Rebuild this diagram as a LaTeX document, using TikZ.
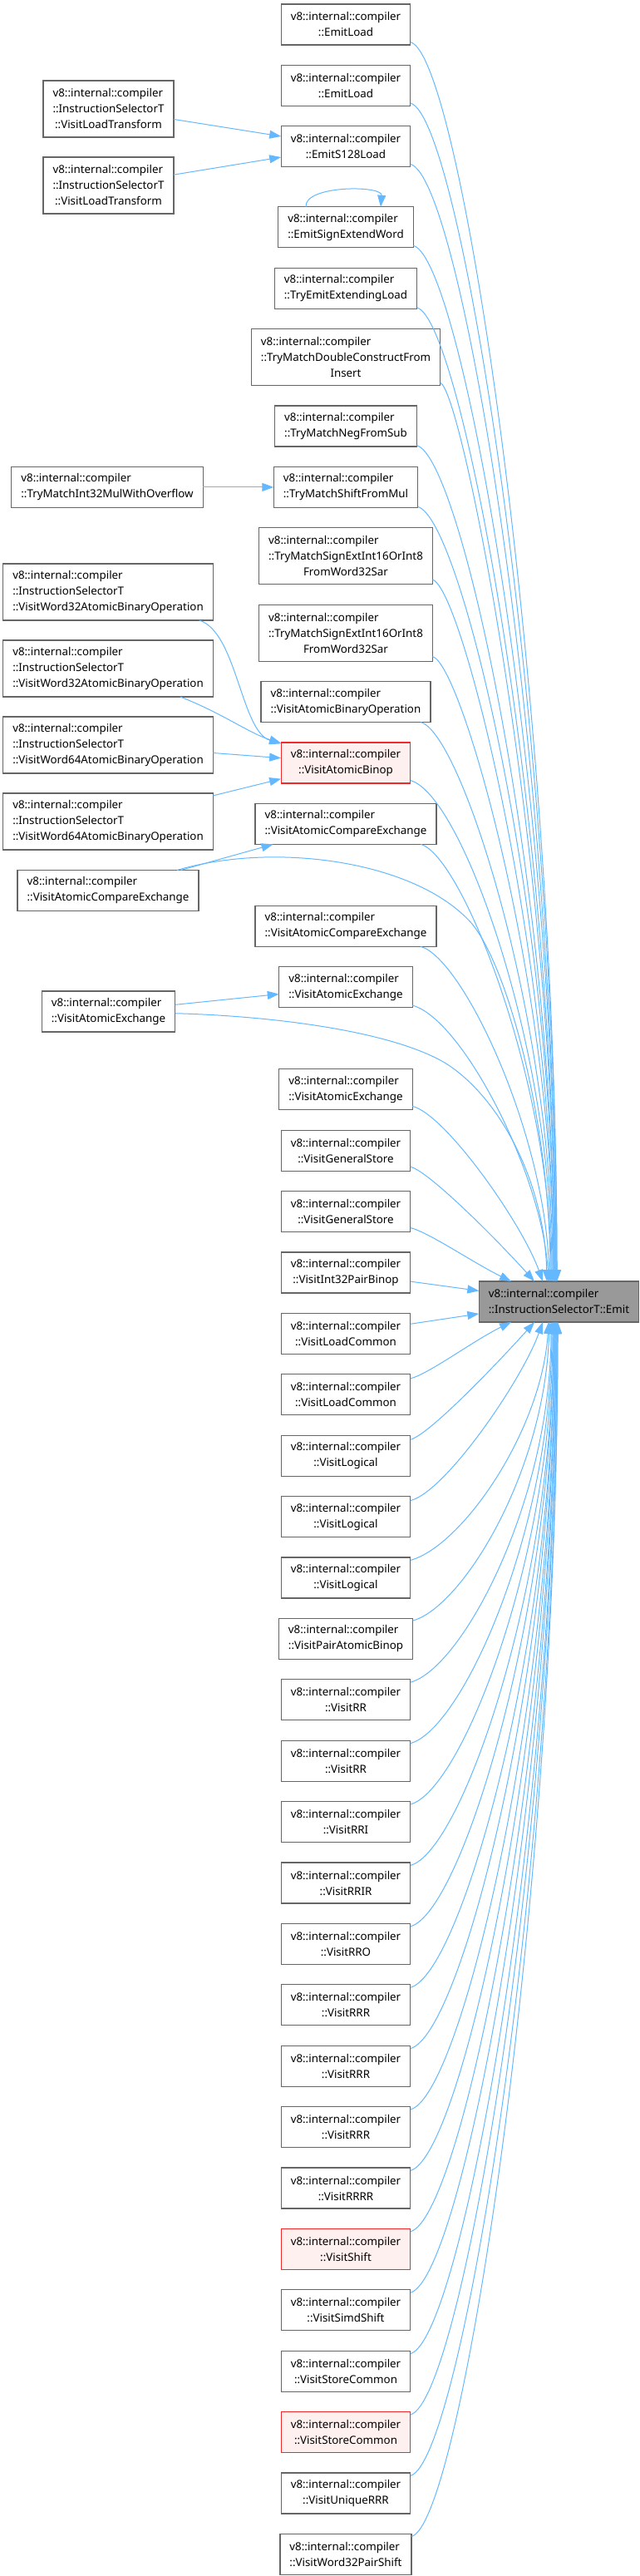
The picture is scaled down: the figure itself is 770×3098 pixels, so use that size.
\documentclass[tikz,border=0pt]{standalone}
\usepackage{fontspec}
\setmainfont{Noto Sans}
\usepackage{xcolor}
\usepackage{tikz}
\usetikzlibrary{arrows.meta,positioning,calc}

\definecolor{edgeblue}{HTML}{63B8FF}
\definecolor{boxgray}{HTML}{666666}
\definecolor{hotred}{HTML}{EE2A2A}
\definecolor{hotfill}{HTML}{FFF0F0}
\definecolor{curfill}{HTML}{999999}

\begin{document}
\begin{tikzpicture}[x=0.5pt, y=-0.5pt,
  node distance=12.2pt and 42.5pt,
  fn/.style={draw=boxgray, fill=white, line width=0.65pt, align=center,
             font=\fontsize{6.67}{9.5}\selectfont, inner xsep=5.8pt,
             inner ysep=2pt, outer sep=0pt, minimum height=24.5pt},
  fnl/.style={fn, align=left},
  fn3/.style={fnl, minimum height=34pt},
  hot/.style={draw=hotred, fill=hotfill},
  cur/.style={fill=curfill},
  arr/.style={draw=edgeblue, line width=0.5pt, -{Triangle[length=7pt,width=5pt]}}]
\useasboundingbox (0,0) rectangle (770,3098);

% callers, middle column
\node[fn] (ela) at (416,29.5) {v8::internal::compiler\\::EmitLoad};
\node[fn, below=of ela] (elb) {v8::internal::compiler\\::EmitLoad};
\node[fn, below=of elb] (s128) {v8::internal::compiler\\::EmitS128Load};
\node[fnl, below=24pt of s128] (sew) {v8::internal::compiler\\::EmitSignExtendWord};
\node[fnl, below=of sew] (tel) {v8::internal::compiler\\::TryEmitExtendingLoad};
\node[fn3, below=of tel] (dci) {v8::internal::compiler\\::TryMatchDoubleConstructFrom\\\hfill Insert\hfill\null};
\node[fnl, below=of dci] (nfs) {v8::internal::compiler\\::TryMatchNegFromSub};
\node[fnl, below=of nfs] (sfm) {v8::internal::compiler\\::TryMatchShiftFromMul};
\node[fn3, below=of sfm] (sea) {v8::internal::compiler\\::TryMatchSignExtInt16OrInt8\\\hfill FromWord32Sar\hfill\null};
\node[fn3, below=of sea] (seb) {v8::internal::compiler\\::TryMatchSignExtInt16OrInt8\\\hfill FromWord32Sar\hfill\null};
\node[fnl, below=of seb] (abo) {v8::internal::compiler\\::VisitAtomicBinaryOperation};
\node[fn, hot, below=of abo] (abn) {v8::internal::compiler\\::VisitAtomicBinop};
\node[fnl, below=of abn] (cxa) {v8::internal::compiler\\::VisitAtomicCompareExchange};
\node[fnl, below=37pt of cxa] (cxb) {v8::internal::compiler\\::VisitAtomicCompareExchange};
\node[fnl, below=of cxb] (axa) {v8::internal::compiler\\::VisitAtomicExchange};
\node[fnl, below=37pt of axa] (axb) {v8::internal::compiler\\::VisitAtomicExchange};
\node[fn, below=of axb] (gsa) {v8::internal::compiler\\::VisitGeneralStore};
\node[fn, below=of gsa] (gsb) {v8::internal::compiler\\::VisitGeneralStore};
\node[fn, below=of gsb] (i32) {v8::internal::compiler\\::VisitInt32PairBinop};
\node[fn, below=of i32] (lca) {v8::internal::compiler\\::VisitLoadCommon};
\node[fn, below=of lca] (lcb) {v8::internal::compiler\\::VisitLoadCommon};
\node[fn, below=of lcb] (lga) {v8::internal::compiler\\::VisitLogical};
\node[fn, below=of lga] (lgb) {v8::internal::compiler\\::VisitLogical};
\node[fn, below=of lgb] (lgc) {v8::internal::compiler\\::VisitLogical};
\node[fnl, below=of lgc] (pab) {v8::internal::compiler\\::VisitPairAtomicBinop};
\node[fn, below=of pab] (rra) {v8::internal::compiler\\::VisitRR};
\node[fn, below=of rra] (rrb) {v8::internal::compiler\\::VisitRR};
\node[fn, below=of rrb] (rri) {v8::internal::compiler\\::VisitRRI};
\node[fn, below=of rri] (rrir) {v8::internal::compiler\\::VisitRRIR};
\node[fn, below=of rrir] (rro) {v8::internal::compiler\\::VisitRRO};
\node[fn, below=of rro] (rrra) {v8::internal::compiler\\::VisitRRR};
\node[fn, below=of rrra] (rrrb) {v8::internal::compiler\\::VisitRRR};
\node[fn, below=of rrrb] (rrrc) {v8::internal::compiler\\::VisitRRR};
\node[fn, below=of rrrc] (rrrr) {v8::internal::compiler\\::VisitRRRR};
\node[fn, hot, below=of rrrr] (shf) {v8::internal::compiler\\::VisitShift};
\node[fn, below=of shf] (sim) {v8::internal::compiler\\::VisitSimdShift};
\node[fn, below=of sim] (sca) {v8::internal::compiler\\::VisitStoreCommon};
\node[fn, hot, below=of sca] (scb) {v8::internal::compiler\\::VisitStoreCommon};
\node[fn, below=of scb] (urr) {v8::internal::compiler\\::VisitUniqueRRR};
\node[fnl, below=of urr] (w32ps) {v8::internal::compiler\\::VisitWord32PairShift};

% callers, left column
\node[fn3] (lt1) at (130.5,131) {v8::internal::compiler\\::InstructionSelectorT\\\hfill ::VisitLoadTransform\hfill\null};
\node[fn3] (lt2) at (130.5,223) {v8::internal::compiler\\::InstructionSelectorT\\\hfill ::VisitLoadTransform\hfill\null};
\node[fnl, left=of sfm] (mov) {v8::internal::compiler\\::TryMatchInt32MulWithOverflow};
\node[fn3] (wa) at (130,712) {v8::internal::compiler\\::InstructionSelectorT\\::VisitWord32AtomicBinaryOperation};
\node[fn3] (wb) at (130,804) {v8::internal::compiler\\::InstructionSelectorT\\::VisitWord32AtomicBinaryOperation};
\node[fn3] (wc) at (130,896) {v8::internal::compiler\\::InstructionSelectorT\\::VisitWord64AtomicBinaryOperation};
\node[fn3] (wd) at (130,988) {v8::internal::compiler\\::InstructionSelectorT\\::VisitWord64AtomicBinaryOperation};
\node[fnl] (cxl) at (130,1071) {v8::internal::compiler\\::VisitAtomicCompareExchange};
\node[fnl] (axl) at (130.5,1216.5) {v8::internal::compiler\\::VisitAtomicExchange};

% the function itself
\node[fnl, cur] (emit) at (672.5,1565.5) {v8::internal::compiler\\::InstructionSelectorT::Emit};

\draw[arr] (lt1) -- (s128);
\draw[arr] (lt2) -- (s128);
\draw[arr] (mov) -- (sfm);
\draw[arr] ([xshift=-24pt]sew.north) to[out=95, in=85, looseness=0.75] ([xshift=21pt]sew.north);
\draw[arr] (wa) .. controls (285,760) and (290,880) .. (abn);
\draw[arr] (wb) .. controls (268,858) and (300,882) .. (abn);
\draw[arr] (wc) -- (abn);
\draw[arr] (wd) -- (abn);
\draw[arr] (cxl) -- (cxa);
\draw[arr] (cxl) .. controls (330,1012) and (500,1035) .. (567,1110)
  .. controls (610,1160) and (662,1350) .. ($(emit.north)+(-10.5,0)$);
\draw[arr] (axl) -- (axa);
\draw[arr] (axl) .. controls (330,1222) and (470,1240) .. (535,1278)
  .. controls (600,1318) and (655,1420) .. ($(emit.north)+(-14.5,0)$);
\draw[arr] (i32) -- (emit);
\draw[arr] (lca) -- (emit);

% everything else runs into Emit from above or below
\foreach \src/\an/\dx/\ax/\ay/\bx/\by in {
  ela/north/-2.5/140/38/0/-690, elb/north/-2.5/140/38/0/-650,
  s128/north/-3.5/140/38/0/-620, sew/north/-3.5/140/38/0/-580,
  tel/north/-4.5/140/38/0/-540, dci/north/-4.5/140/38/0/-500,
  nfs/north/-5.5/140/38/0/-460, sfm/north/-5.5/140/38/0/-430,
  sea/north/-6.5/140/38/0/-390, seb/north/-6.5/140/38/0/-350,
  abo/north/-7.5/140/38/0/-310, abn/north/-8.5/140/38/0/-280,
  cxa/north/-9.5/140/38/0/-240, cxb/north/-11.5/140/38/-5/-180,
  axa/north/-12.5/140/38/-8/-130, axb/north/-19.5/120/30/-25/-70,
  gsa/north/-29.5/100/25/-45/-50, gsb/north/-57.5/100/25/-45/-22,
  lcb/south/-57.5/100/-25/-45/22, lga/south/-29.5/100/-25/-45/50,
  lgb/south/-19.5/120/-30/-25/70, lgc/south/-12.5/140/-38/-8/130,
  pab/south/-11.5/140/-38/-5/180, rra/south/-9.5/140/-38/0/215,
  rrb/south/-8.5/140/-38/0/250, rri/south/-7.5/140/-38/0/280,
  rrir/south/-6.5/140/-38/0/315, rro/south/-6.5/140/-38/0/345,
  rrra/south/-5.5/140/-38/0/380, rrrb/south/-5.5/140/-38/0/410,
  rrrc/south/-4.5/140/-38/0/445, rrrr/south/-4.5/140/-38/0/480,
  shf/south/-3.5/140/-38/0/510, sim/south/-3.5/140/-38/0/545,
  sca/south/-2.5/140/-38/0/580, scb/south/-2.5/140/-38/0/610,
  urr/south/-1.5/140/-38/0/645, w32ps/south/-1.5/140/-38/0/680}
  \draw[arr] (\src) .. controls +(\ax,\ay) and +(\bx,\by) .. ($(emit.\an)+(\dx,0)$);
\end{tikzpicture}
\end{document}
